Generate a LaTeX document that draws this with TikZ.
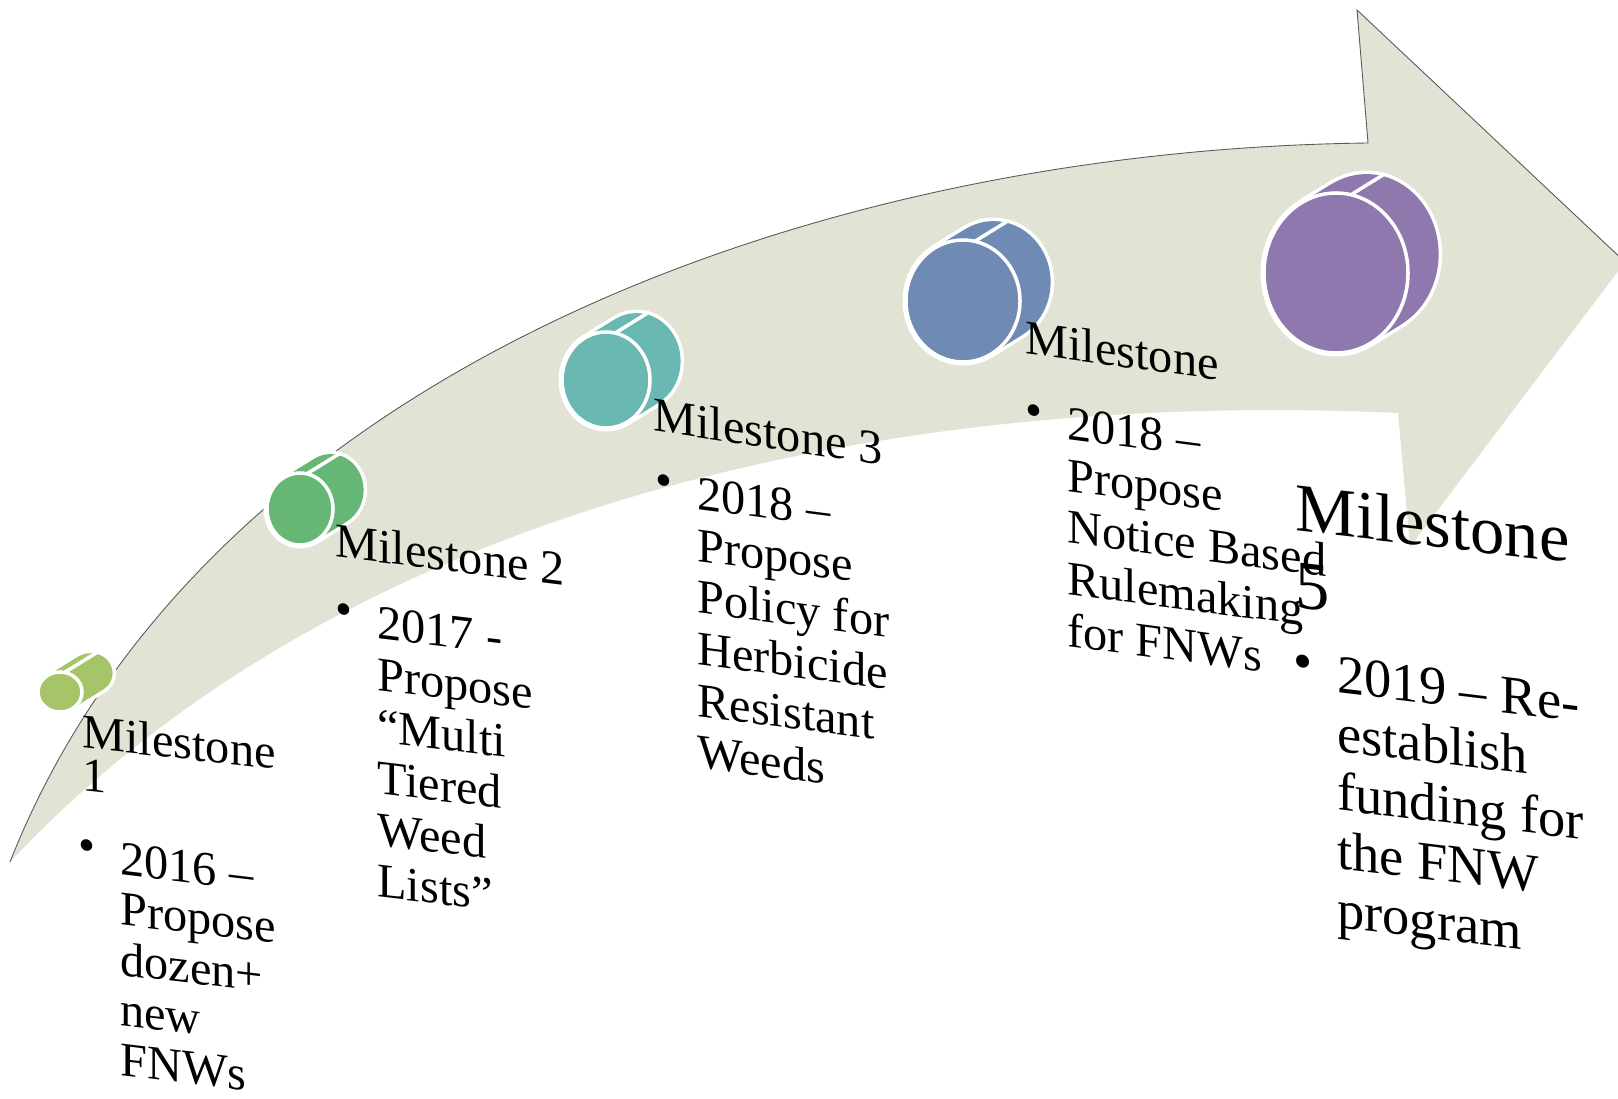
\documentclass[tikz,border=0pt]{standalone}
\usepackage{fontspec}
\setmainfont{Liberation Serif}
\usetikzlibrary{calc}
\definecolor{arrowfill}{RGB}{225,228,212}
\definecolor{msone}{RGB}{166,196,104}
\definecolor{mstwo}{RGB}{102,183,118}
\definecolor{msthree}{RGB}{106,184,178}
\definecolor{msfour}{RGB}{110,138,181}
\definecolor{msfive}{RGB}{142,120,174}

\tikzset{
  hdr/.style={inner sep=0pt, anchor=north west, align=left, transform shape,
    font=\fontsize{27.5}{24.5}\selectfont},
  body/.style={inner sep=0pt, anchor=north west, align=left, transform shape,
    font=\fontsize{27.5}{29.4}\selectfont},
}
\newcommand{\bul}{\llap{\raisebox{5pt}{\textbullet}\hspace{14pt}}}

\begin{document}
\begin{tikzpicture}[x=0.02cm, y=-0.02cm]
  \useasboundingbox (0,0) rectangle (1618,1098);
  \clip (0,0) rectangle (1618,1098);
  %% arrow
  \fill[arrowfill] (10,862) .. controls (200,380) and (800,150) .. (1368,143)
      -- (1357,10) -- (1625,262) -- (1410,547) -- (1398,413)
      .. controls (900,390) and (350,500) .. (10,862) -- cycle;
  \draw[gray!70!black, line width=0.5pt] (10,862) .. controls (200,380) and (800,150) .. (1368,143)
      -- (1357,10) -- (1625,262);
  %% milestone cylinders
  \foreach \cx/\cy/\rx/\ry/\col in {60/692/22/20/msone, 300/509/33/36/mstwo,
      606/380/44/48/msthree, 963/301/57/61/msfour, 1336/273/72/80/msfive}{
    \foreach \t in {0,0.1,...,1}
      \draw[white, line width=4pt] ({\cx+34*\t},{\cy-21*\t}) ellipse [x radius=\rx, y radius=\ry];
    \foreach \t in {0,0.1,...,1}
      \fill[fill=\col] ({\cx+34*\t},{\cy-21*\t}) ellipse [x radius=\rx, y radius=\ry];
    \draw[white, line width=2pt, fill=\col] (\cx,\cy) ellipse [x radius=\rx, y radius=\ry];
    \draw[white, line width=2pt] ({\cx+\rx*cos(-78)},{\cy+\ry*sin(-78)}) -- ++(34,-21);
  }
  %% headings
  \node[hdr, yslant=-0.11] (m1) at (82,714) {Milestone\\1};
  \node[hdr, yslant=-0.125] (m2) at (335,523) {Milestone 2};
  \node[hdr, yslant=-0.15] (m3) at (653,397) {Milestone 3};
  \node[hdr, yslant=-0.135] (m4) at (1025,320) {Milestone};
  \node[hdr, yslant=-0.115, font=\fontsize{39}{43.6}\selectfont] (m5) at (1295,483) {Milestone\\5};
  %% bullet texts
  \node[body, yslant=-0.12, font=\fontsize{27.5}{28.6}\selectfont] (b1) at (120,842)
      {\bul 2016 –\\Propose\\dozen+\\new\\FNWs};
  \node[body, yslant=-0.12] (b2) at (377,606) {\bul 2017 -\\Propose\\“Multi\\Tiered\\Weed\\Lists”};
  \node[body, yslant=-0.13] (b3) at (697,477) {\bul 2018 –\\Propose\\Policy for\\Herbicide\\Resistant\\Weeds};
  \node[body, yslant=-0.13] (b4) at (1067,407) {\bul 2018 –\\Propose\\Notice Based\\Rulemaking\\for FNWs};
  \node[body, yslant=-0.12, font=\fontsize{31}{33.4}\selectfont] (b5) at (1337,656)
      {\bul 2019 – Re-\\establish\\funding for\\the FNW\\program};
\end{tikzpicture}
\end{document}
